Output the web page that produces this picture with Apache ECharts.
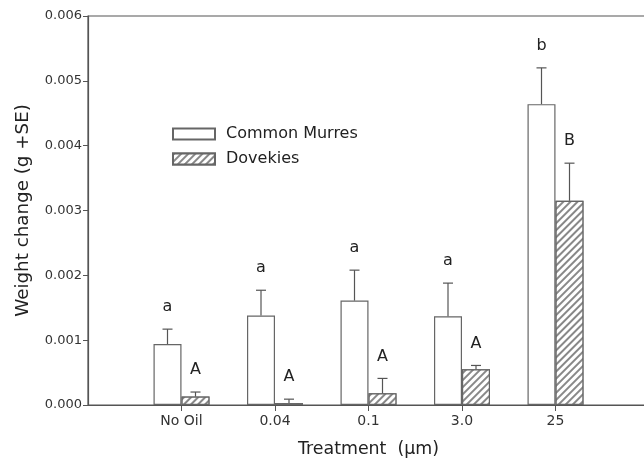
<!DOCTYPE html>
<html>
<head>
<meta charset="utf-8">
<script src="https://cdn.jsdelivr.net/npm/echarts@6/dist/echarts.min.js"></script>
<style>html,body{margin:0;padding:0;background:#fff}#c{width:644px;height:463px}</style>
</head>
<body>
<div id="c"></div>
<script>
var categories = ['', 'No Oil', '0.04', '0.1', '3.0', '25', ''];
var murresMean = [null, 0.00094, 0.00138, 0.00161, 0.00137, 0.00464, null];
var murresUpper = [null, 0.00117, 0.00177, 0.00208, 0.00188, 0.00520, null];
var murresLetters = ['', 'a', 'a', 'a', 'a', 'b', ''];
var dovekiesMean = [null, 0.00013, 0.00003, 0.00018, 0.00055, 0.00315, null];
var dovekiesUpper = [null, 0.00020, 0.00009, 0.00041, 0.00061, 0.00373, null];
var dovekiesLetters = ['', 'A', 'A', 'A', 'A', 'B', ''];
var yTicks = [0, 0.001, 0.002, 0.003, 0.004, 0.005, 0.006];

var FONT = 'DejaVu Sans, sans-serif';
var LINE = '#555';

function errData(mean, upper, letters) {
  var out = [];
  for (var i = 0; i < categories.length; i++) {
    if (mean[i] == null) continue;
    out.push([i, mean[i], upper[i], letters[i]]);
  }
  return out;
}

function makeErr(offset) {
  return function (params, api) {
    var x = api.value(0);
    var top = api.coord([x, api.value(1)]);
    var up = api.coord([x, api.value(2)]);
    var cx = top[0] + offset;
    var half = 5;
    return {
      type: 'group',
      children: [
        { type: 'line', shape: { x1: cx, y1: top[1], x2: cx, y2: up[1] }, style: { stroke: LINE, lineWidth: 1.2 } },
        { type: 'line', shape: { x1: cx - half, y1: up[1], x2: cx + half, y2: up[1] }, style: { stroke: LINE, lineWidth: 1.2 } },
        { type: 'text', x: cx, y: up[1] - 14, style: { text: api.value(3), fill: '#222', font: '16px ' + FONT, textAlign: 'center', textVerticalAlign: 'bottom' } }
      ]
    };
  };
}

var chart = echarts.init(document.getElementById('c'));
chart.setOption({
  animation: false,
  backgroundColor: '#fff',
  textStyle: { fontFamily: FONT },
  grid: { left: 88, top: 16, width: 561, height: 389, show: true, borderColor: LINE, borderWidth: 1.2, containLabel: false, outerBoundsMode: 'none' },
  legend: {
    orient: 'vertical', left: 172, top: 126, padding: 0, itemWidth: 42, itemHeight: 11, itemGap: 9,
    icon: 'rect',
    textStyle: { fontSize: 16, color: '#222', fontFamily: FONT, padding: [0, 0, 0, 6] },
    data: ['Common Murres', 'Dovekies']
  },
  xAxis: {
    type: 'category', data: categories, boundaryGap: false,
    name: 'Treatment  (\u00b5m)', nameLocation: 'middle', nameGap: 36,
    nameTextStyle: { fontSize: 17.4, color: '#222' },
    axisLine: { lineStyle: { color: LINE, width: 1.2 } },
    axisTick: { length: 6, lineStyle: { color: LINE }, interval: function (i) { return i > 0 && i < categories.length - 1; } },
    axisLabel: { fontSize: 14, color: '#333', margin: 9, interval: 0 },
    splitLine: { show: false }
  },
  yAxis: {
    type: 'value', min: 0, max: 0.006, interval: 0.001,
    name: 'Weight change (g +SE)', nameLocation: 'middle', nameGap: 56,
    nameTextStyle: { fontSize: 18.3, color: '#222' },
    axisLine: { show: true, lineStyle: { color: LINE, width: 1.2 } },
    axisTick: { show: true, length: 5, lineStyle: { color: LINE } },
    axisLabel: { fontSize: 13, color: '#333', margin: 6, formatter: function (v) { return v.toFixed(3); } },
    splitLine: { show: false }
  },
  series: [
    {
      name: 'Common Murres', type: 'bar', data: murresMean, barWidth: 28, barGap: '0%',
      itemStyle: { color: '#fff', borderColor: '#666', borderWidth: 1.2 }
    },
    {
      name: 'Dovekies', type: 'bar', data: dovekiesMean, barWidth: 28, barGap: '0%',
      itemStyle: {
        color: '#fff', borderColor: '#666', borderWidth: 1.2,
        decal: { symbol: 'rect', color: '#888', backgroundColor: '#fff', dashArrayX: [1, 0], dashArrayY: [1.1, 2.6], rotation: -Math.PI / 4 }
      }
    },
    { type: 'custom', renderItem: makeErr(-14), data: errData(murresMean, murresUpper, murresLetters), z: 5, silent: true },
    { type: 'custom', renderItem: makeErr(14), data: errData(dovekiesMean, dovekiesUpper, dovekiesLetters), z: 5, silent: true }
  ]
});
</script>
</body>
</html>
